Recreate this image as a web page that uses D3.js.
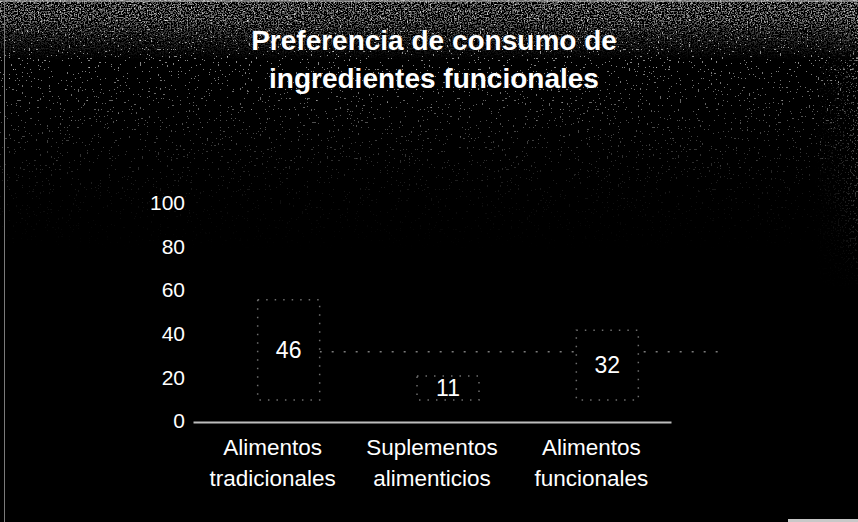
<!DOCTYPE html>
<html>
<head>
<meta charset="utf-8">
<script src="https://cdn.jsdelivr.net/npm/d3@7"></script>
<style>
  html, body { margin: 0; padding: 0; background: #000; }
  svg { display: block; }
  text { font-family: "Liberation Sans", Arial, sans-serif; fill: #fff; }
</style>
</head>
<body>
<script>
// Chart data
const titleLines = ["Preferencia de consumo de", "ingredientes funcionales"];
const categories = ["Alimentos tradicionales", "Suplementos alimenticios", "Alimentos funcionales"];
const values = [46, 11, 32];
const yTicks = [0, 20, 40, 60, 80, 100];

const W = 858, H = 522;
const depth = { dx: 16, dy: -21 };   // 3D offset of the columns

const svg = d3.select("body").append("svg")
  .attr("width", W).attr("height", H);

const defs = svg.append("defs");

// speckled grain: thresholded turbulence turned into sparse light dots
function grainFilter(id, freq, seed, table) {
  const f = defs.append("filter").attr("id", id)
    .attr("filterUnits", "userSpaceOnUse")
    .attr("x", 0).attr("y", 0).attr("width", W).attr("height", H);
  f.append("feTurbulence")
    .attr("type", "fractalNoise").attr("baseFrequency", freq)
    .attr("numOctaves", 1).attr("seed", seed);
  f.append("feColorMatrix").attr("type", "matrix")
    .attr("values", "0 0 0 0 0.88  0 0 0 0 0.88  0 0 0 0 0.88  1 0 0 0 0");
  f.append("feComponentTransfer").append("feFuncA")
    .attr("type", "discrete").attr("tableValues", table);
}
grainFilter("grainA", 0.55, 3, "0 0 0 0 0 0 0 0.7 1 1");
grainFilter("grainB", 0.7, 11, "0 0 0 0 0.35 0.6 0.9 1");
grainFilter("grainC", 0.6, 5, "0 0 0 0 0 0.5 0.9 1");

function vGradient(id, stops) {
  const g = defs.append("linearGradient").attr("id", id)
    .attr("gradientUnits", "userSpaceOnUse")
    .attr("x1", 0).attr("y1", 0).attr("x2", 0).attr("y2", H);
  stops.forEach(([y, o]) => g.append("stop")
    .attr("offset", y / H).attr("stop-color", "#fff").attr("stop-opacity", o));
}
function hGradient(id, stops) {
  const g = defs.append("linearGradient").attr("id", id)
    .attr("gradientUnits", "userSpaceOnUse")
    .attr("x1", 0).attr("y1", 0).attr("x2", W).attr("y2", 0);
  stops.forEach(([x, o]) => g.append("stop")
    .attr("offset", x / W).attr("stop-color", "#fff").attr("stop-opacity", o));
}
// sparse speckle fades from the top down
vGradient("fadeSparse", [[0, 1], [40, 0.9], [100, 0.6], [150, 0.32], [200, 0.1], [250, 0]]);
// dense grey band along the top edge
vGradient("fadeDense", [[0, 1], [18, 0.95], [32, 0.55], [60, 0]]);
// speckled band down the right edge
hGradient("fadeRight", [[815, 0], [842, 0.4], [858, 0.95]]);
vGradient("fadeRightV", [[0, 1], [170, 0.55], [290, 0]]);

function fullMask(id, fill) {
  defs.append("mask").attr("id", id)
    .attr("maskUnits", "userSpaceOnUse")
    .attr("x", 0).attr("y", 0).attr("width", W).attr("height", H)
    .append("rect").attr("width", W).attr("height", H).attr("fill", fill);
}
fullMask("mSparse", "url(#fadeSparse)");
fullMask("mDense", "url(#fadeDense)");
fullMask("mRightV", "url(#fadeRightV)");
fullMask("mRight", "url(#fadeRight)");

// background
svg.append("rect").attr("width", W).attr("height", H).attr("fill", "#000");
svg.append("rect").attr("width", W).attr("height", H)
  .attr("filter", "url(#grainA)").attr("mask", "url(#mSparse)");
svg.append("rect").attr("width", W).attr("height", H)
  .attr("filter", "url(#grainB)").attr("mask", "url(#mDense)");
svg.append("g").attr("mask", "url(#mRightV)")
  .append("rect").attr("width", W).attr("height", H)
  .attr("filter", "url(#grainC)").attr("mask", "url(#mRight)");

// scanned page borders
svg.append("rect").attr("x", 0).attr("y", 0).attr("width", W).attr("height", 2)
  .attr("fill", "#bdbdbd").attr("opacity", 0.6);
svg.append("line").attr("x1", 4.5).attr("x2", 4.5).attr("y1", 0).attr("y2", H)
  .attr("stroke", "#7a7a7a").attr("stroke-width", 1);
svg.append("rect").attr("x", 788).attr("y", 519).attr("width", 70).attr("height", 3)
  .attr("fill", "#c8c8c8");

// title
svg.append("g").selectAll("text").data(titleLines).join("text")
  .attr("x", 434)
  .attr("y", (d, i) => 50 + i * 38)
  .attr("text-anchor", "middle")
  .attr("font-size", 28)
  .attr("font-weight", "bold")
  .text(d => d);

// scales
const x = d3.scaleBand().domain(categories).range([193, 671]).padding(0);
const y = d3.scaleLinear().domain([0, 100]).range([421, 203]);

// y-axis labels (no axis line)
const yAxis = svg.append("g").attr("transform", "translate(185,0)")
  .call(d3.axisLeft(y).tickValues(yTicks).tickSize(0).tickPadding(0));
yAxis.select(".domain").remove();
yAxis.selectAll("text")
  .attr("font-size", 21).attr("fill", "#fff")
  .style("font-family", "'Liberation Sans', Arial, sans-serif");

// reference line behind the columns
svg.append("line")
  .attr("x1", x(categories[0]) + x.bandwidth() / 2 + depth.dx + 31)
  .attr("x2", 722)
  .attr("y1", y(values[2]) + 0.5).attr("y2", y(values[2]) + 0.5)
  .attr("stroke", "#7a7a7a").attr("stroke-width", 1.5)
  .attr("stroke-dasharray", "2 10");

// columns (drawn with their 3D depth offset)
const barW = 62;
const bars = svg.append("g").selectAll("g").data(values).join("g");
bars.append("rect")
  .attr("x", (d, i) => x(categories[i]) + x.bandwidth() / 2 + depth.dx - barW / 2)
  .attr("y", d => y(d) + depth.dy)
  .attr("width", barW)
  .attr("height", d => y(0) - y(d))
  .attr("fill", "#000")
  .attr("stroke", "#6e6e6e")
  .attr("stroke-width", 1.5)
  .attr("stroke-dasharray", "1.5 7");

// value labels inside the columns
bars.append("text")
  .attr("x", (d, i) => x(categories[i]) + x.bandwidth() / 2 + depth.dx)
  .attr("y", d => (y(d) + y(0)) / 2 + depth.dy)
  .attr("dy", "0.36em")
  .attr("text-anchor", "middle")
  .attr("font-size", 23)
  .text(d => d);

// x axis with two-line category labels
const xAxis = svg.append("g").attr("transform", `translate(0,${y(0) + 1})`)
  .call(d3.axisBottom(x).tickSize(0).tickSizeOuter(0).tickPadding(0));
xAxis.select(".domain").attr("stroke", "#bdbdbd").attr("stroke-width", 2);
xAxis.selectAll(".tick text").each(function(d) {
  const t = d3.select(this).text(null)
    .attr("font-size", 22.5).attr("fill", "#fff")
    .attr("y", 0).attr("dy", null)
    .style("font-family", "'Liberation Sans', Arial, sans-serif");
  d.split(" ").forEach((w, i) => {
    t.append("tspan").attr("x", 0).attr("y", 33 + i * 31).text(w);
  });
});
</script>
</body>
</html>
